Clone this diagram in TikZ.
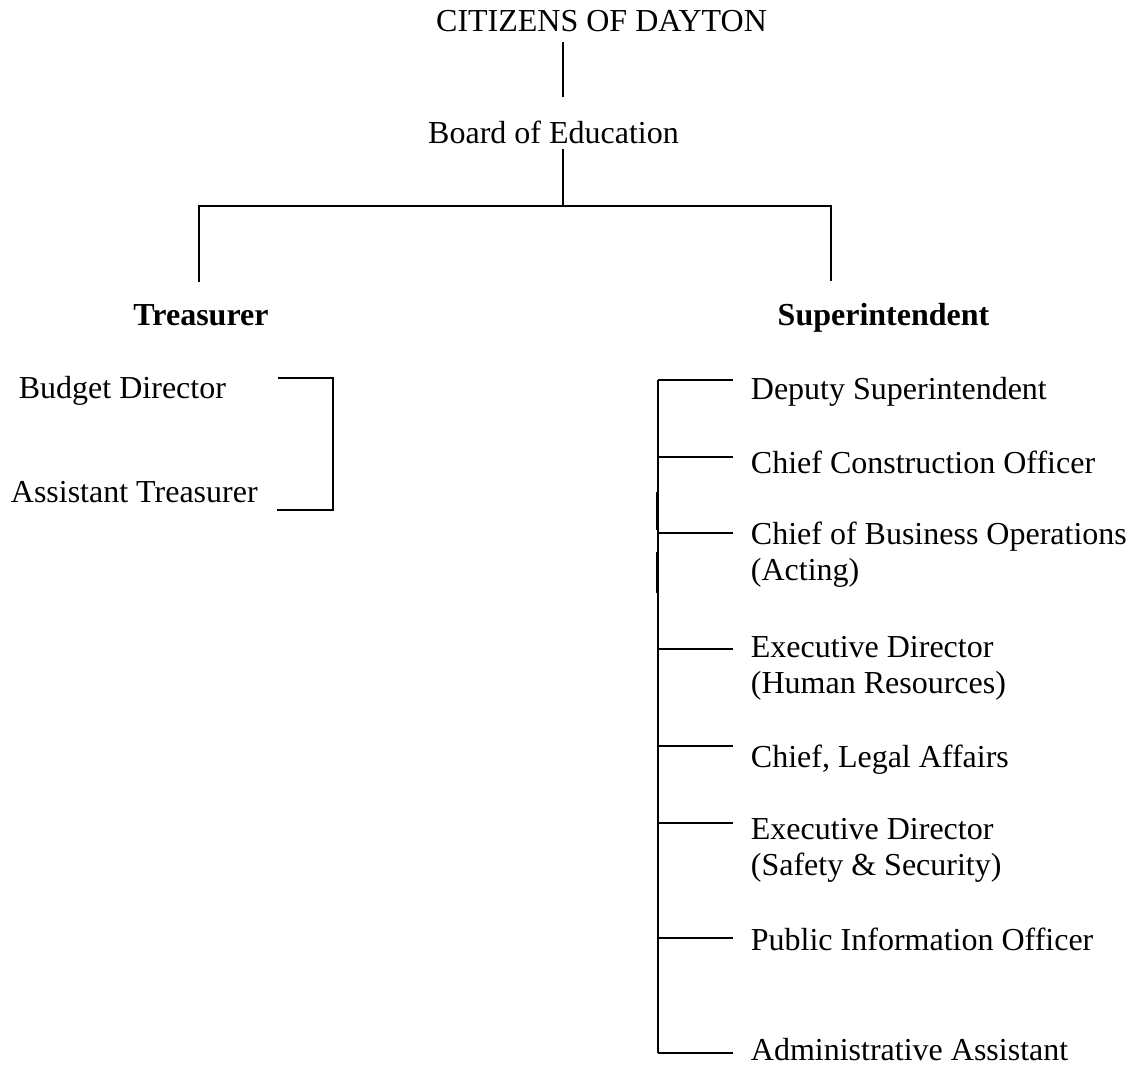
\documentclass[tikz,border=0pt]{standalone}
\usepackage{fontspec}
\setmainfont{Liberation Serif}
\begin{document}
\begin{tikzpicture}[x=0.5pt,y=-0.5pt,line width=0.9pt,
  lbl/.style={inner sep=0pt,font=\fontsize{16}{17.8}\selectfont,align=left,anchor=base west},
  ctr/.style={lbl,anchor=base},
  head/.style={ctr,font=\fontsize{16}{17.8}\selectfont\bfseries},
  branch/.style={shorten >=8.5pt},
  thickseg/.style={line width=1.4pt}]
\useasboundingbox (0,0) rectangle (1138,1066);
% top
\node[ctr] (cit) at (601.5,31) {CITIZENS OF DAYTON};
\node[ctr] (boe) at (553.5,143) {Board of Education};
\node[head] (tre) at (201,325) {Treasurer};
\node[head] (sup) at (883.5,325) {Superintendent};
\coordinate (xa) at (563,0);
\coordinate (hb) at (563,206);
\coordinate (hl) at (199,206);
\coordinate (hr) at (831,206);
\draw[shorten <=5pt,shorten >=11.5pt] (cit.south -| xa) -- (boe.north -| xa);
\draw[shorten <=2.5pt] (boe.south -| xa) -- (hb);
\draw[shorten <=10.5pt,shorten >=10.5pt] (tre.north -| hl) -- (hl) -- (hr) -- (sup.north -| hr);
% treasurer side
\node[lbl] (bud) at (18,398) {Budget Director};
\node[lbl] (ast) at (10,502) {Assistant Treasurer};
\coordinate (bt) at (333,378);
\coordinate (bb) at (333,510);
\draw[shorten <=25.5pt,shorten >=9pt] (bud.east |- bt) -- (bt) -- (bb) -- (ast.east |- bb);
% superintendent side (base anchor of a two-line node = last line)
\node[lbl] (dep) at (750,399) {Deputy Superintendent};
\node[lbl] (cco) at (750,473) {Chief Construction Officer};
\node[lbl] (cbo) at (750,580) {Chief of Business Operations\\(Acting)};
\node[lbl] (edh) at (750,693) {Executive Director\\(Human Resources)};
\node[lbl] (cla) at (750,767) {Chief, Legal Affairs};
\node[lbl] (eds) at (750,875) {Executive Director\\(Safety \& Security)};
\node[lbl] (pio) at (750,950) {Public Information Officer};
\node[lbl] (adm) at (750,1060) {Administrative Assistant};
\coordinate (j1) at (658,380);
\coordinate (j2) at (658,457);
\coordinate (j3) at (658,533);
\coordinate (j4) at (658,649);
\coordinate (j5) at (658,746);
\coordinate (j6) at (658,823);
\coordinate (j7) at (658,938);
\coordinate (j8) at (658,1053);
\draw (j1) -- (j8);
\draw[thickseg] (657.5,492) -- (657.5,530);
\draw[thickseg] (657.5,552) -- (657.5,593);
\draw[branch] (j1) -- (j1 -| dep.west);
\draw[branch] (j2) -- (j2 -| cco.west);
\draw[branch] (j3) -- (j3 -| cbo.west);
\draw[branch] (j4) -- (j4 -| edh.west);
\draw[branch] (j5) -- (j5 -| cla.west);
\draw[branch] (j6) -- (j6 -| eds.west);
\draw[branch] (j7) -- (j7 -| pio.west);
\draw[branch] (j8) -- (j8 -| adm.west);
\end{tikzpicture}
\end{document}
